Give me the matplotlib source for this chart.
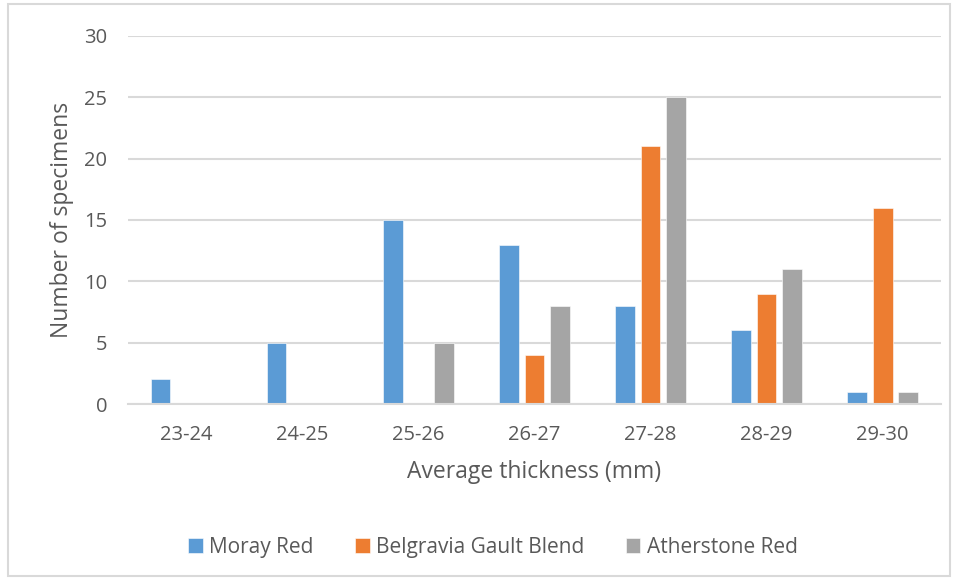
import matplotlib.pyplot as plt
import numpy as np
from matplotlib.patches import Rectangle

# Specimen counts per thickness band
bands = ['23-24', '24-25', '25-26', '26-27', '27-28', '28-29', '29-30']
moray_red = [2, 5, 15, 13, 8, 6, 1]
belgravia_gault = [0, 0, 0, 4, 21, 9, 16]
atherstone_red = [0, 0, 5, 8, 25, 11, 1]

series_names = ['Moray Red', 'Belgravia Gault Blend', 'Atherstone Red']
series_colors = ['#5B9BD5', '#ED7D31', '#A5A5A5']

text_color = '#595959'
grid_color = '#D9D9D9'

plt.rcParams['font.family'] = ['Open Sans', 'DejaVu Sans']

fig = plt.figure(figsize=(9.58, 5.8), dpi=100)
ax = fig.add_axes([0.1336, 0.3034, 0.8484, 0.6346])

# outer chart border
fig.patches.append(Rectangle((8 / 958, 4 / 580), 942 / 958, 572 / 580,
                             transform=fig.transFigure, fill=False,
                             edgecolor=grid_color, linewidth=1.5))

x = np.arange(len(bands))
bar_w = 0.17
step = 0.22
for i, (vals, name, col) in enumerate(zip([moray_red, belgravia_gault, atherstone_red],
                                          series_names, series_colors)):
    ax.bar(x + (i - 1) * step, vals, width=bar_w, color=col, label=name,
           edgecolor='white', linewidth=0.4, zorder=3)

ax.set_xlim(-0.5, len(bands) - 0.5)
ax.set_ylim(0, 30)
ax.set_yticks(range(0, 31, 5))
ax.set_xticks(x)
ax.set_xticklabels(bands)

ax.grid(True, axis='y', color=grid_color, linewidth=1.5, zorder=0)
for side in ['top', 'right', 'left']:
    ax.spines[side].set_visible(False)
ax.spines['bottom'].set_color(grid_color)
ax.spines['bottom'].set_linewidth(1.5)
ax.spines['bottom'].set_zorder(4)

ax.tick_params(axis='both', length=0, labelsize=14.5, labelcolor=text_color)
ax.tick_params(axis='x', pad=15)
ax.tick_params(axis='y', pad=15)

ax.set_xlabel('Average thickness (mm)', fontsize=16.5, color=text_color, labelpad=11)
ax.set_ylabel('Number of specimens', fontsize=16.5, color=text_color, labelpad=7)

ax.legend(loc='upper center', bbox_to_anchor=(0.449, -0.31), ncol=3, frameon=False,
          fontsize=15, labelcolor=text_color, handlelength=0.7, handleheight=0.7,
          handletextpad=0.3, columnspacing=2.0)

plt.savefig('out.png', dpi=100)
